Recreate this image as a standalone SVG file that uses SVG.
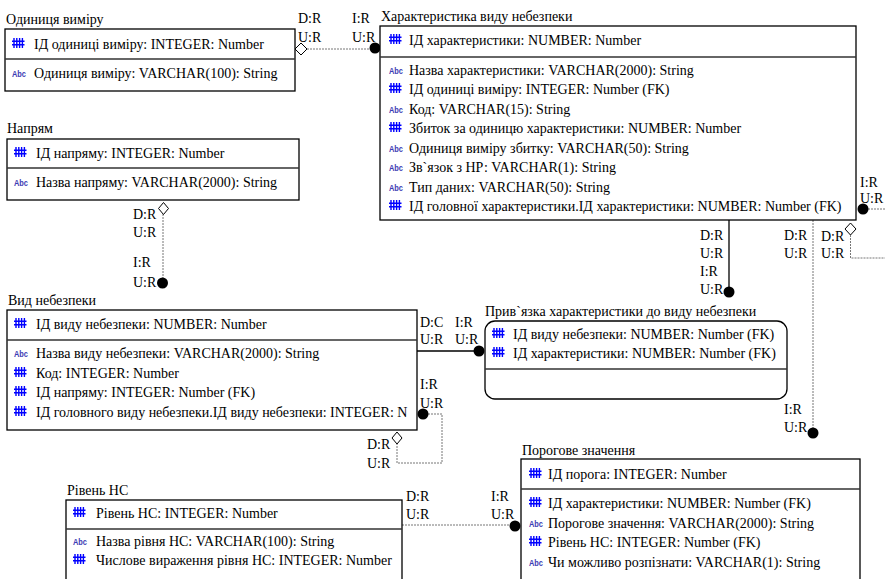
<svg xmlns="http://www.w3.org/2000/svg" xmlns:xlink="http://www.w3.org/1999/xlink" width="885" height="579" viewBox="0 0 885 579" font-family="'Liberation Serif', 'Times New Roman', serif">
<style>
text.t{font-family:'Liberation Serif','Times New Roman',serif;font-size:14px;fill:#000}
.box{fill:#fff;stroke:#000;stroke-width:1.3}
.dv{stroke:#333;stroke-width:1.3}
.rel{fill:none;stroke:#777;stroke-width:1;stroke-dasharray:2 1}
.idrel{fill:none;stroke:#000;stroke-width:1.3}
.dot{fill:#000}
.dia{fill:#fff;stroke:#000;stroke-width:1}
text.abc{font-family:'Liberation Sans',Arial,sans-serif;font-size:9px;font-weight:bold;fill:#3b3bb3}
.hash{stroke:#0000ff;stroke-width:1.4;fill:none}
</style>
<defs>
<g id="num"><path class="hash" d="M2,0V10M4.8,0V10M7.6,0V10M10.4,0V10M0,3.3H12.5M0,6.8H12.5"/></g>
<clipPath id="clipVid"><rect x="7" y="310" width="410" height="120"/></clipPath>
</defs>

<g id="connectors">
  <path class="rel" d="M307,49H375"/>
  <polygon class="dia" points="295,49 301,43 307,49 301,55"/>
  <circle class="dot" cx="375" cy="48" r="5.5"/>
  <text class="t" x="298" y="23">D:R</text><text class="t" x="298" y="42">U:R</text>
  <text class="t" x="352" y="23">I:R</text><text class="t" x="352" y="42">U:R</text>

  <path class="rel" d="M163,214V283"/>
  <polygon class="dia" points="163.5,202.5 168.5,208.5 163.5,214.5 158.5,208.5"/>
  <circle class="dot" cx="162.5" cy="283" r="5.5"/>
  <text class="t" x="133" y="219">D:R</text><text class="t" x="133" y="237">U:R</text>
  <text class="t" x="133" y="267">I:R</text><text class="t" x="133" y="287">U:R</text>

  <path class="idrel" d="M417,351H478"/>
  <circle class="dot" cx="479" cy="351" r="5.5"/>
  <text class="t" x="420" y="327">D:C</text><text class="t" x="420" y="344">U:R</text>
  <text class="t" x="455" y="327">I:R</text><text class="t" x="455" y="344">U:R</text>

  <path class="rel" d="M428,414H442V463H397V444"/>
  <polygon class="dia" points="397,432 402,438 397,444 392,438"/>
  <circle class="dot" cx="423" cy="414" r="5.5"/>
  <text class="t" x="420" y="389">I:R</text><text class="t" x="420" y="408">U:R</text>
  <text class="t" x="367" y="449">D:R</text><text class="t" x="367" y="468">U:R</text>

  <path class="rel" d="M868,209H885"/>
  <path class="rel" d="M850.5,235V258H885"/>
  <polygon class="dia" points="850.5,223 856,229 850.5,235 845,229"/>
  <circle class="dot" cx="863" cy="209" r="5.5"/>
  <text class="t" x="860" y="187">I:R</text><text class="t" x="860" y="203">U:R</text>
  <text class="t" x="821" y="241">D:R</text><text class="t" x="821" y="258">U:R</text>

  <path class="idrel" d="M729,220V291"/>
  <circle class="dot" cx="729" cy="292" r="5.5"/>
  <text class="t" x="700" y="240">D:R</text><text class="t" x="700" y="258">U:R</text>
  <text class="t" x="700" y="276">I:R</text><text class="t" x="700" y="294">U:R</text>

  <path class="rel" d="M813,220V433"/>
  <circle class="dot" cx="813" cy="433" r="5.5"/>
  <text class="t" x="784" y="240">D:R</text><text class="t" x="784" y="258">U:R</text>
  <text class="t" x="784" y="414">I:R</text><text class="t" x="784" y="432">U:R</text>

  <path class="rel" d="M402,525H515"/>
  <circle class="dot" cx="515" cy="526" r="5.5"/>
  <text class="t" x="406" y="501">D:R</text><text class="t" x="406" y="519">U:R</text>
  <text class="t" x="491" y="501">I:R</text><text class="t" x="491" y="519">U:R</text>
</g>

<g id="odynytsia">
  <text class="t" x="6" y="24">Одиниця виміру</text>
  <rect class="box" x="5" y="29" width="290" height="62"/>
  <line class="dv" x1="5" y1="59" x2="295" y2="59"/>
  <use xlink:href="#num" x="12" y="38"/>
  <text class="t" x="34" y="49">ІД одиниці виміру: INTEGER: Number</text>
  <text class="abc" x="12" y="77" textLength="14" lengthAdjust="spacingAndGlyphs">Abc</text>
  <text class="t" x="34" y="78">Одиниця виміру: VARCHAR(100): String</text>
</g>

<g id="kharakterystyka">
  <text class="t" x="381" y="21">Характеристика виду небезпеки</text>
  <rect class="box" x="380" y="26" width="476" height="194"/>
  <line class="dv" x1="380" y1="57" x2="856" y2="57"/>
  <use xlink:href="#num" x="389" y="34"/>
  <text class="t" x="409" y="45">ІД характеристики: NUMBER: Number</text>
  <text class="abc" x="389" y="74" textLength="14" lengthAdjust="spacingAndGlyphs">Abc</text>
  <text class="t" x="409" y="75">Назва характеристики: VARCHAR(2000): String</text>
  <use xlink:href="#num" x="389" y="83"/>
  <text class="t" x="409" y="94">ІД одиниці виміру: INTEGER: Number (FK)</text>
  <text class="abc" x="389" y="113" textLength="14" lengthAdjust="spacingAndGlyphs">Abc</text>
  <text class="t" x="409" y="114">Код: VARCHAR(15): String</text>
  <use xlink:href="#num" x="389" y="122"/>
  <text class="t" x="409" y="133">Збиток за одиницю характеристики: NUMBER: Number</text>
  <text class="abc" x="389" y="152" textLength="14" lengthAdjust="spacingAndGlyphs">Abc</text>
  <text class="t" x="409" y="153">Одиниця виміру збитку: VARCHAR(50): String</text>
  <text class="abc" x="389" y="171" textLength="14" lengthAdjust="spacingAndGlyphs">Abc</text>
  <text class="t" x="409" y="172">Зв`язок з НР: VARCHAR(1): String</text>
  <text class="abc" x="389" y="191" textLength="14" lengthAdjust="spacingAndGlyphs">Abc</text>
  <text class="t" x="409" y="192">Тип даних: VARCHAR(50): String</text>
  <use xlink:href="#num" x="389" y="200"/>
  <text class="t" x="409" y="211">ІД головної характеристики.ІД характеристики: NUMBER: Number (FK)</text>
</g>

<g id="napriam">
  <text class="t" x="7" y="133">Напрям</text>
  <rect class="box" x="7" y="139" width="292" height="61"/>
  <line class="dv" x1="7" y1="168" x2="299" y2="168"/>
  <use xlink:href="#num" x="14" y="147"/>
  <text class="t" x="36" y="158">ІД напряму: INTEGER: Number</text>
  <text class="abc" x="14" y="186" textLength="14" lengthAdjust="spacingAndGlyphs">Abc</text>
  <text class="t" x="36" y="187">Назва напряму: VARCHAR(2000): String</text>
</g>

<g id="vyd">
  <text class="t" x="8" y="305">Вид  небезпеки</text>
  <rect class="box" x="7" y="310" width="410" height="120"/>
  <line class="dv" x1="7" y1="340" x2="417" y2="340"/>
  <use xlink:href="#num" x="14" y="318"/>
  <text class="t" x="36" y="329">ІД виду небезпеки: NUMBER: Number</text>
  <text class="abc" x="14" y="357" textLength="14" lengthAdjust="spacingAndGlyphs">Abc</text>
  <text class="t" x="36" y="358">Назва виду небезпеки: VARCHAR(2000): String</text>
  <use xlink:href="#num" x="14" y="367"/>
  <text class="t" x="36" y="378">Код: INTEGER: Number</text>
  <use xlink:href="#num" x="14" y="386"/>
  <text class="t" x="36" y="397">ІД напряму: INTEGER: Number (FK)</text>
  <use xlink:href="#num" x="14" y="406"/>
  <text class="t" x="36" y="417" clip-path="url(#clipVid)">ІД головного виду небезпеки.ІД виду небезпеки: INTEGER: N</text>
</g>

<g id="pryviazka">
  <text class="t" x="485" y="316">Прив`язка характеристики до виду небезпеки</text>
  <rect class="box" x="485" y="321" width="302" height="78" rx="10" ry="10"/>
  <line class="dv" x1="485" y1="369" x2="787" y2="369"/>
  <use xlink:href="#num" x="492" y="328"/>
  <text class="t" x="513" y="339">ІД виду небезпеки: NUMBER: Number (FK)</text>
  <use xlink:href="#num" x="492" y="347"/>
  <text class="t" x="513" y="358">ІД характеристики: NUMBER: Number (FK)</text>
</g>

<g id="porohove">
  <text class="t" x="522" y="455">Порогове значення</text>
  <rect class="box" x="521" y="459" width="339" height="140"/>
  <line class="dv" x1="521" y1="489" x2="860" y2="489"/>
  <use xlink:href="#num" x="529" y="468"/>
  <text class="t" x="548" y="479">ІД порога: INTEGER: Number</text>
  <use xlink:href="#num" x="529" y="497"/>
  <text class="t" x="548" y="508">ІД характеристики: NUMBER: Number (FK)</text>
  <text class="abc" x="529" y="527" textLength="14" lengthAdjust="spacingAndGlyphs">Abc</text>
  <text class="t" x="548" y="528">Порогове значення: VARCHAR(2000): String</text>
  <use xlink:href="#num" x="529" y="536"/>
  <text class="t" x="548" y="547">Рівень НС: INTEGER: Number (FK)</text>
  <text class="abc" x="529" y="566" textLength="14" lengthAdjust="spacingAndGlyphs">Abc</text>
  <text class="t" x="548" y="567">Чи можливо розпізнати: VARCHAR(1): String</text>
</g>

<g id="riven">
  <text class="t" x="67" y="495">Рівень НС</text>
  <rect class="box" x="66" y="500" width="336" height="100"/>
  <line class="dv" x1="66" y1="529" x2="402" y2="529"/>
  <use xlink:href="#num" x="73" y="507"/>
  <text class="t" x="96" y="518">Рівень НС: INTEGER: Number</text>
  <text class="abc" x="73" y="545" textLength="14" lengthAdjust="spacingAndGlyphs">Abc</text>
  <text class="t" x="96" y="546">Назва рівня НС: VARCHAR(100): String</text>
  <use xlink:href="#num" x="73" y="554"/>
  <text class="t" x="96" y="565">Числове вираження рівня НС: INTEGER: Number</text>
</g>
</svg>
